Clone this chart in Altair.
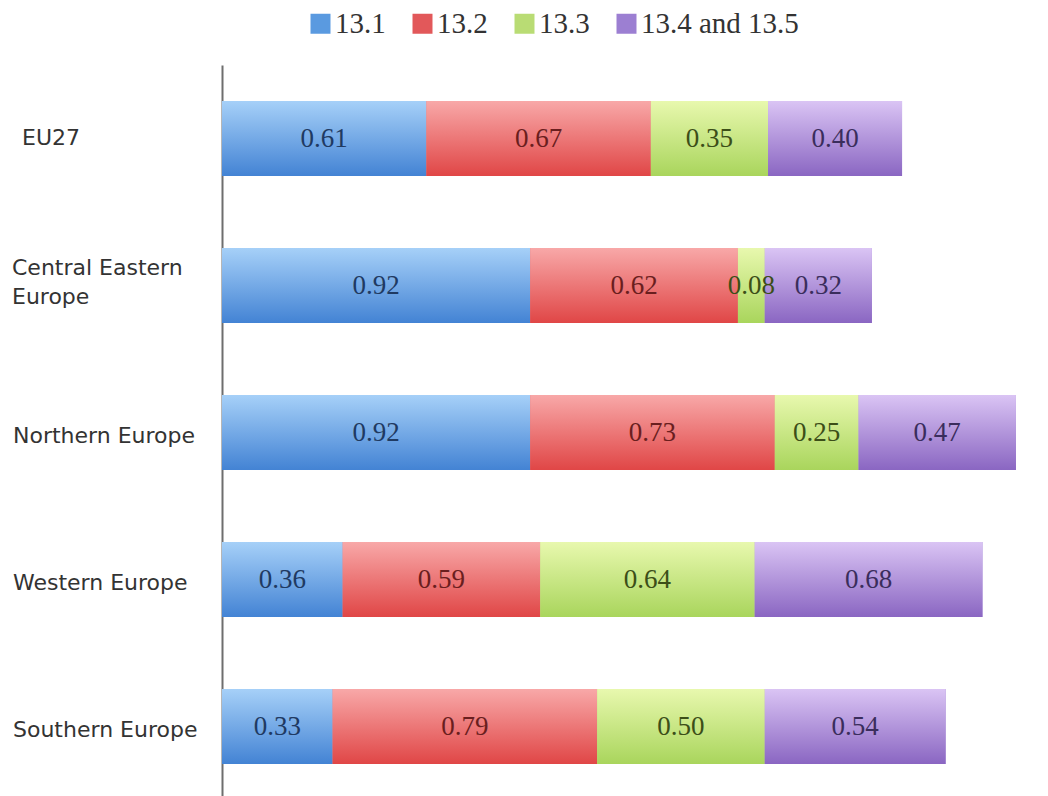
import altair as alt
import pandas as pd

regions = ["EU27", "Central Eastern Europe", "Northern Europe", "Western Europe", "Southern Europe"]
series = ["13.1", "13.2", "13.3", "13.4 and 13.5"]
v_131 = [0.61, 0.92, 0.92, 0.36, 0.33]
v_132 = [0.67, 0.62, 0.73, 0.59, 0.79]
v_133 = [0.35, 0.08, 0.25, 0.64, 0.50]
v_134 = [0.40, 0.32, 0.47, 0.68, 0.54]

legend_colors = ["#5a9ae0", "#e2585a", "#b9dc74", "#9c7fd2"]
grad_top = ["#a6d0f8", "#f8a8a8", "#e8f8ae", "#dac4f4"]
grad_bot = ["#4383d4", "#e04646", "#a9d55c", "#8a66c2"]
label_colors = ["#1f3a62", "#6a1e1e", "#3c4e18", "#3a2d5c"]

rows = []
for si, (s, vals) in enumerate(zip(series, [v_131, v_132, v_133, v_134])):
    for ri, r in enumerate(regions):
        rows.append({"region": r, "series": s, "order": si, "value": vals[ri]})
df = pd.DataFrame(rows)

yenc = alt.Y("region:N", sort=regions, title=None,
             scale=alt.Scale(paddingInner=0.49, paddingOuter=0.2315, align=0.53),
             axis=alt.Axis(labels=False, ticks=False, domainColor="#6e6e6e", domainWidth=2, grid=False))
xscale = alt.Scale(domain=[0, 2.4], nice=False, zero=True)

base = alt.Chart(df).transform_stack(
    stack="value", groupby=["region"], as_=["x0", "x1"],
    sort=[alt.SortField("order", order="ascending")]
)

legend_layer = base.mark_bar().encode(
    x=alt.X("x0:Q", scale=xscale, axis=None),
    x2="x1:Q",
    y=yenc,
    color=alt.Color("series:N", scale=alt.Scale(domain=series, range=legend_colors),
                    legend=alt.Legend(title=None, orient="none", direction="horizontal",
                                      legendX=84, legendY=-56, padding=0,
                                      symbolType="square", symbolSize=400, symbolStrokeWidth=0,
                                      labelFont="Liberation Serif", labelFontSize=29,
                                      labelColor="#333333", labelOffset=0, columnPadding=22)),
)

grad_layers = []
for i, s in enumerate(series):
    g = alt.Gradient(gradient="linear", x1=0, x2=0, y1=0, y2=1,
                     stops=[alt.GradientStop(color=grad_top[i], offset=0),
                            alt.GradientStop(color=grad_bot[i], offset=1)])
    grad_layers.append(
        base.transform_filter(alt.datum.series == s).mark_bar(color=g).encode(
            x=alt.X("x0:Q", scale=xscale, axis=None), x2="x1:Q", y=yenc)
    )

labels = base.transform_calculate(mid="(datum.x0 + datum.x1) / 2").mark_text(
    font="Liberation Serif", fontSize=27, baseline="middle"
).encode(
    x=alt.X("mid:Q", scale=xscale, axis=None),
    y=yenc,
    text=alt.Text("value:Q", format=".2f"),
    color=alt.Color("series:N", scale=alt.Scale(domain=series, range=label_colors), legend=None),
)

cat_df = pd.DataFrame({"region": regions})
cat_style = dict(font="DejaVu Sans", fontSize=22, align="left", baseline="middle",
                 color="#333333", lineHeight=29)
cat_eu = alt.Chart(cat_df).transform_filter(alt.datum.region == "EU27").mark_text(
    dy=-1, **cat_style).encode(x=alt.value(-200), y=yenc, text="region:N")
cat_single = alt.Chart(cat_df).transform_filter(
    "datum.region != 'EU27' && datum.region != 'Central Eastern Europe'"
).mark_text(dy=3, **cat_style).encode(x=alt.value(-209), y=yenc, text="region:N")
cat_multi = alt.Chart(cat_df).transform_filter(
    alt.datum.region == "Central Eastern Europe"
).transform_calculate(lab="['Central Eastern', 'Europe']").mark_text(
    dy=-18, **cat_style).encode(x=alt.value(-210), y=yenc, text="lab:N")

chart = alt.layer(legend_layer, *grad_layers, labels, cat_eu, cat_single, cat_multi).resolve_scale(
    color="independent"
).properties(
    width=804, height=731,
    autosize=alt.AutoSizeParams(type="none"),
    padding={"left": 222, "top": 65, "right": 22, "bottom": 0},
).configure_view(stroke=None)

chart.save("out.html", embed_options={"renderer": "svg", "actions": False})
